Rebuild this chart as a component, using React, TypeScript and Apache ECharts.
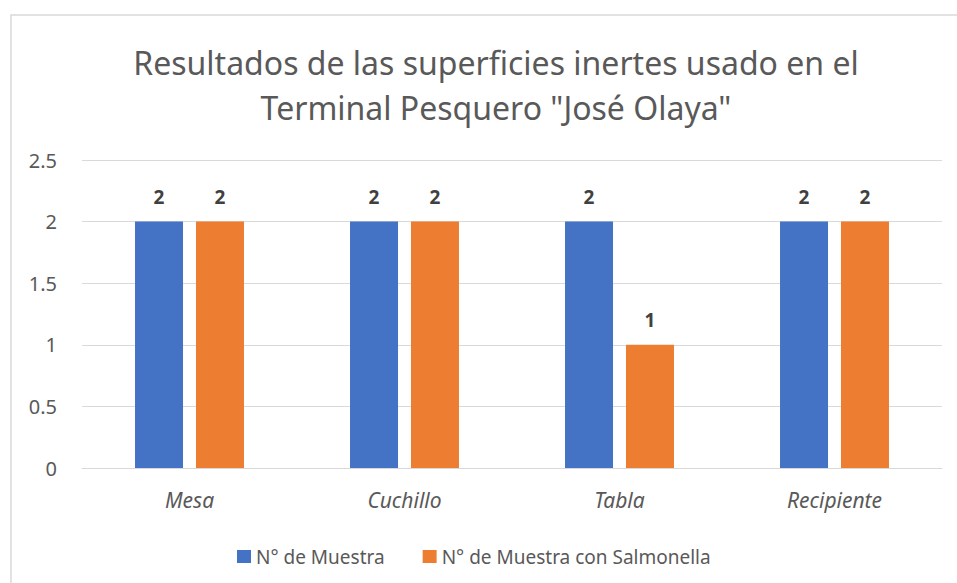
import React, { useEffect, useRef } from "react";
import * as echarts from "echarts";

const titleText = 'Resultados de las superficies inertes usado en el\nTerminal Pesquero "José Olaya"';
const categories = ["Mesa", "Cuchillo", "Tabla", "Recipiente"];
const seriesNames = ["N° de Muestra", "N° de Muestra con Salmonella"];
const muestra = [2, 2, 2, 2];
const salmonella = [2, 2, 1, 2];
const colors = ["#4472C4", "#ED7D31"];

const FONT = "'Noto Sans', 'Open Sans', sans-serif";

export default function App() {
  const ref = useRef<HTMLDivElement>(null);
  useEffect(() => {
    if (!ref.current) return;
    const chart = echarts.init(ref.current, null, { renderer: "svg" });
    const labelStyle = {
      show: true,
      position: "top" as const,
      distance: 15,
      fontSize: 19,
      fontWeight: "bold" as const,
      color: "#404040",
      fontFamily: FONT,
    };
    chart.setOption({
      animation: false,
      backgroundColor: "#ffffff",
      title: {
        text: titleText,
        left: 491,
        textAlign: "center",
        top: 35,
        textStyle: {
          fontFamily: FONT,
          fontSize: 32,
          fontWeight: "normal",
          color: "#595959",
          lineHeight: 45,
        },
      },
      graphic: [
        {
          type: "rect",
          shape: { x: 11, y: 15, width: 980, height: 600 },
          style: { fill: "none", stroke: "#d9d9d9", lineWidth: 1.5 },
          silent: true,
          z: -1,
        },
      ],
      legend: {
        left: 232,
        top: 542,
        itemWidth: 14,
        itemHeight: 13,
        itemGap: 38,
        icon: "rect",
        textStyle: { fontFamily: FONT, fontSize: 19, color: "#595959" },
        data: seriesNames,
      },
      grid: { left: 82, right: 15, top: 160, bottom: 115 },
      xAxis: {
        type: "category",
        data: categories,
        axisLine: { lineStyle: { color: "#d9d9d9" } },
        axisTick: { show: false },
        axisLabel: {
          fontFamily: FONT,
          fontSize: 21,
          fontStyle: "italic",
          color: "#595959",
          margin: 21,
        },
      },
      yAxis: {
        type: "value",
        min: 0,
        max: 2.5,
        interval: 0.5,
        axisLine: { show: false },
        axisTick: { show: false },
        splitLine: { lineStyle: { color: "#d9d9d9" } },
        axisLabel: {
          fontFamily: FONT,
          fontSize: 20,
          color: "#595959",
          margin: 25,
        },
      },
      series: [
        {
          name: seriesNames[0],
          type: "bar",
          data: muestra,
          itemStyle: { color: colors[0] },
          barWidth: 48,
          barGap: "27%",
          label: labelStyle,
        },
        {
          name: seriesNames[1],
          type: "bar",
          data: salmonella,
          itemStyle: { color: colors[1] },
          barWidth: 48,
          label: labelStyle,
        },
      ],
    });
    return () => chart.dispose();
  }, []);
  return (
    <div
      ref={ref}
      style={{ position: "fixed", left: 0, top: 0, width: 957, height: 583 }}
    />
  );
}
